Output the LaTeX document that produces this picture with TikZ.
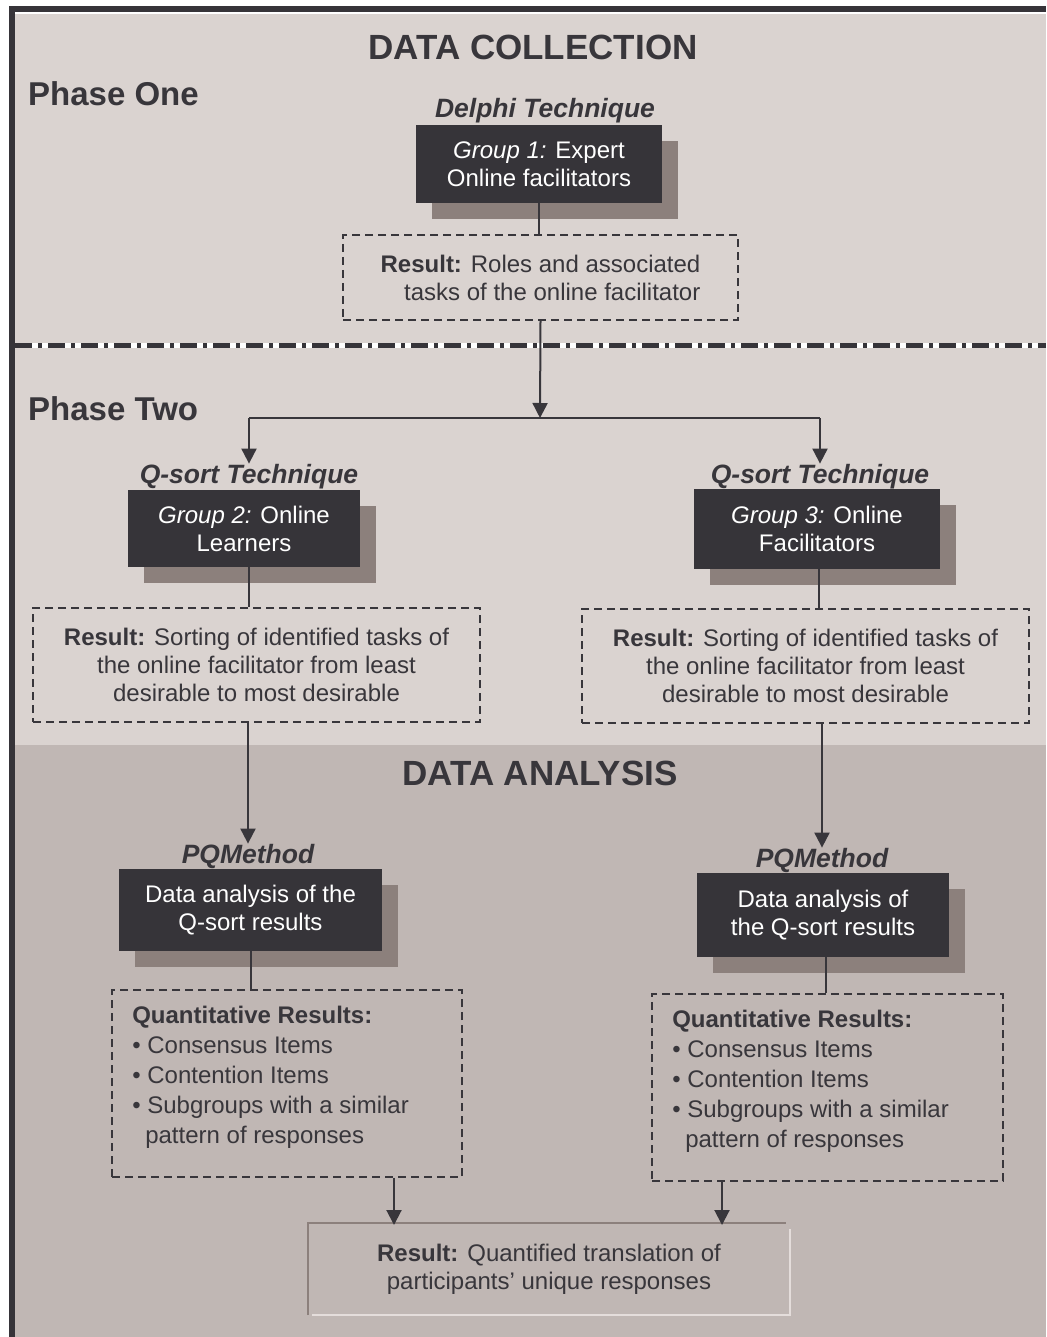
\documentclass[tikz,border=0pt]{standalone}
\usepackage{fontspec}
\setmainfont{Liberation Sans}
\usetikzlibrary{positioning,arrows.meta,shadows}

\definecolor{paneltop}{HTML}{DAD3D0}
\definecolor{panelbot}{HTML}{C0B7B4}
\definecolor{boxdark}{HTML}{363439}
\definecolor{boxshade}{HTML}{8C807C}
\definecolor{ink}{HTML}{38363B}
\definecolor{edgelight}{HTML}{E4DDDB}

\newcommand{\fsz}[2]{\fontsize{#1pt}{#2pt}\selectfont}

\begin{document}
\begin{tikzpicture}
    [
        x=1pt, y=-1pt,
        every node/.style={inner sep=0pt, text=ink},
        heading/.style={font=\fsz{35}{40}\bfseries, anchor=base},
        phase/.style={font=\fsz{33}{38}\bfseries, anchor=base west},
        method/.style={font=\fsz{26.5}{30}\bfseries\itshape, anchor=base},
        group/.style={fill=boxdark, text=white, align=center, font=\fsz{24}{28},
            drop shadow={shadow xshift=16pt, shadow yshift=-16pt, fill=boxshade, opacity=1}},
        result/.style={draw=ink, dash pattern=on 8pt off 5pt, line width=1.8pt, font=\fsz{24}{28}},
        itemlist/.style={align=left, anchor=north west, font=\fsz{24}{30}},
        link/.style={draw=ink, line width=2pt},
        arr/.style={link, -{Triangle[length=15pt, width=15pt]}}
    ]

    \useasboundingbox (0,0) rectangle (1046,1337);

    % panels and frame
    \fill[paneltop] (15,14) rectangle (1046,745);
    \fill[panelbot] (15,745) rectangle (1046,1337);
    \fill[boxdark] (9,6) rectangle (1046,12);
    \fill[boxdark] (9,6) rectangle (15,1337);
    \draw[white, line width=5pt] (15,345) -- (1046,345);
    \draw[boxdark, line width=5pt, dash pattern=on 17pt off 6pt on 4pt off 6pt] (15,345) -- (1046,345);

    \node[heading] (collect) at (533,60) {DATA COLLECTION};
    \node[heading] (analysis) at (540,785) {DATA ANALYSIS};
    \node[phase] (one) at (28,106) {Phase One};
    \node[phase] (two) at (28,420) {Phase Two};

    % phase one
    \node[method] (delphi) at (545,118) {Delphi Technique};
    \node[group, minimum width=246pt, minimum height=78pt] (g1) at (539,164)
        {\textit{Group 1:} Expert\\Online facilitators};
    \node[result, minimum width=395pt, minimum height=85pt, align=right] (r1) at (540.5,277.5)
        {\textbf{Result:} Roles and associated\\tasks of the online facilitator};

    % phase two
    \coordinate (split) at (540,418);
    \node[method] (qs2) at (249,483) {Q-sort Technique};
    \node[method] (qs3) at (820,483) {Q-sort Technique};
    \node[group, minimum width=232pt, minimum height=77pt] (g2) at (244,528.5)
        {\textit{Group 2:} Online\\Learners};
    \node[group, minimum width=246pt, minimum height=80pt] (g3) at (817,529)
        {\textit{Group 3:} Online\\Facilitators};
    \node[result, minimum width=447pt, minimum height=114pt, align=center] (r2) at (256.5,665)
        {\textbf{Result:} Sorting of identified tasks of\\the online facilitator from least\\desirable to most desirable};
    \node[result, minimum width=447pt, minimum height=114pt, align=center] (r3) at (805.5,666)
        {\textbf{Result:} Sorting of identified tasks of\\the online facilitator from least\\desirable to most desirable};

    % data analysis
    \node[method] (pq2) at (248,863) {PQMethod};
    \node[method] (pq3) at (822,867) {PQMethod};
    \node[group, minimum width=263pt, minimum height=82pt] (d2) at (250.5,910)
        {Data analysis of the\\Q-sort results};
    \node[group, minimum width=252pt, minimum height=84pt] (d3) at (823,915)
        {Data analysis of\\the Q-sort results};
    \node[result, minimum width=350pt, minimum height=187pt] (q2) at (287,1083.5) {};
    \node[result, minimum width=351pt, minimum height=187pt] (q3) at (827.5,1087.5) {};
    \node[itemlist] (q2list) at ([xshift=21pt, yshift=-17pt]q2.north west)
        {\textbf{Quantitative Results:}\\• Consensus Items\\• Contention Items\\• Subgroups with a similar\\\hspace*{13pt}pattern of responses};
    \node[itemlist] (q3list) at ([xshift=21pt, yshift=-17pt]q3.north west)
        {\textbf{Quantitative Results:}\\• Consensus Items\\• Contention Items\\• Subgroups with a similar\\\hspace*{13pt}pattern of responses};

    \node[font=\fsz{24}{28}, align=center, minimum width=482pt, minimum height=88pt] (fin) at (549,1269)
        {\textbf{Result:} Quantified translation of\\participants’ unique responses};
    \draw[boxshade, line width=2.5pt] ([yshift=-2pt]fin.south west) -- ([yshift=2pt]fin.north west) -- ([xshift=-4pt, yshift=2pt]fin.north east);
    \draw[edgelight, line width=2.5pt] ([xshift=4pt, yshift=-2pt]fin.south west) -- ([yshift=-2pt]fin.south east) -- ([yshift=-4pt]fin.north east);
    \coordinate (inL) at (394,1225);
    \coordinate (inR) at (722,1225);

    % connectors
    \draw[link] (g1.south) -- (g1.south |- r1.north);
    \draw[arr] (r1.south) -- (split);
    \draw[link] (qs2 |- split) -- (qs3 |- split);
    \draw[arr] (qs2 |- split) -- (qs2.north);
    \draw[arr] (qs3 |- split) -- (qs3.north);
    \draw[link] ([xshift=5pt]g2.south) -- ([xshift=5pt]g2.south |- r2.north);
    \draw[link] ([xshift=2pt]g3.south) -- ([xshift=2pt]g3.south |- r3.north);
    \draw[arr] (pq2 |- r2.south) -- (pq2.north);
    \draw[arr] (pq3 |- r3.south) -- (pq3.north);
    \draw[link] (d2.south) -- (d2.south |- q2.north);
    \draw[link] ([xshift=3pt]d3.south) -- ([xshift=3pt]d3.south |- q3.north);
    \draw[arr] (q2.south -| inL) -- (inL);
    \draw[arr] (q3.south -| inR) -- (inR);
\end{tikzpicture}
\end{document}
